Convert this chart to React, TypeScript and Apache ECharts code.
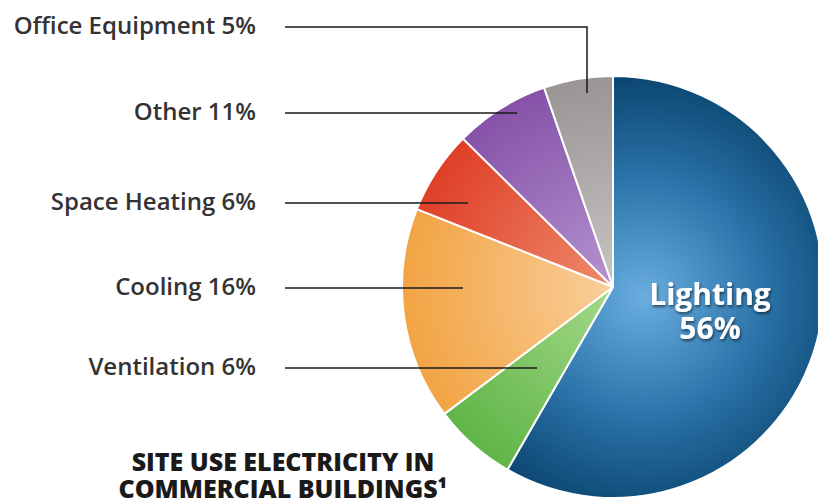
import React, { useEffect, useRef } from "react";
import * as echarts from "echarts";

const categories = ["Lighting", "Ventilation", "Cooling", "Space Heating", "Other", "Office Equipment"];
// slice sizes as drawn (percent of circle)
const sliceValues = [58.4, 6.4, 16.3, 6.4, 7.3, 5.3];
// percentages printed in the labels
const labelPercents = ["56%", "6%", "16%", "6%", "11%", "5%"];
const titleLines = ["SITE USE ELECTRICITY IN", "COMMERCIAL BUILDINGS\u00B9"];

const CX = 613;
const CY = 287;
const R = 211;

const sliceColors: [string, string][] = [
  ["#6aaee0", "#0b4670"],
  ["#a6d98a", "#5fb548"],
  ["#f9cf9c", "#f2a443"],
  ["#ee8a6c", "#df3f27"],
  ["#b493d0", "#8652a8"],
  ["#c9c4c4", "#9a9494"],
];

// label placement (line row, anchor inside slice)
const labelLayoutMap: Record<number, { y: number; ax: number; ay: number }> = {
  1: { y: 368, ax: 537, ay: 368 },
  2: { y: 288, ax: 463, ay: 288 },
  3: { y: 203, ax: 468, ay: 203 },
  4: { y: 113, ax: 517, ay: 113 },
  5: { y: 27, ax: 587, ay: 93 },
};
const LABEL_RIGHT = 256;
const LINE_START = 285;

export default function App() {
  const ref = useRef<HTMLDivElement>(null);
  useEffect(() => {
    document.body.style.margin = "0";
    const chart = echarts.init(ref.current!, null, { renderer: "svg" });
    const data = categories.map((name, i) => {
      const [inner, outer] = sliceColors[i];
      const color =
        i === 0
          ? {
              type: "radial",
              x: CX + 30,
              y: CY + 10,
              r: R * 1.05,
              global: true,
              colorStops: [
                { offset: 0, color: inner },
                { offset: 0.55, color: "#2a72a8" },
                { offset: 1, color: outer },
              ],
            }
          : {
              type: "radial",
              x: CX,
              y: CY,
              r: R,
              global: true,
              colorStops: [
                { offset: 0, color: inner },
                { offset: 1, color: outer },
              ],
            };
      const base: any = {
        name,
        value: sliceValues[i],
        itemStyle: { color },
      };
      if (i === 0) {
        base.label = {
          show: true,
          position: "inside",
          formatter: "{b}\n" + labelPercents[i],
          color: "#ffffff",
          fontFamily: "Open Sans",
          fontWeight: 700,
          fontSize: 30,
          lineHeight: 34,
          align: "center",
          textShadowColor: "rgba(0,0,0,0.55)",
          textShadowBlur: 3,
          textShadowOffsetX: 1,
          textShadowOffsetY: 2,
        };
      } else {
        base.label = {
          show: true,
          position: "outside",
          formatter: "{b} " + labelPercents[i],
          color: "#333333",
          fontFamily: "Open Sans",
          fontWeight: 600,
          fontSize: 24,
        };
      }
      return base;
    });

    // leader lines drawn above the slices, from the same layout map
    const leaderLines = Object.keys(labelLayoutMap).map((k) => {
      const m = labelLayoutMap[Number(k)];
      return {
        type: "polyline",
        z: 100,
        silent: true,
        shape: {
          points: [
            [LINE_START, m.y],
            [m.ax, m.y],
            [m.ax, m.ay],
          ],
        },
        style: { stroke: "#1a1a1a", lineWidth: 1.5, fill: null },
      };
    });

    const titleStyle = {
      fontFamily: "Open Sans",
      fontWeight: 800,
      fontSize: 25,
      lineHeight: 24,
      color: "#1a1a1a",
    };

    chart.setOption({
      animation: false,
      backgroundColor: "#ffffff",
      title: [
        { text: titleLines[0], left: 283, top: 449, padding: 0, textAlign: "center", textStyle: titleStyle },
        { text: titleLines[1], left: 283, top: 476, padding: 0, textAlign: "center", textStyle: titleStyle },
      ],
      graphic: leaderLines,
      series: [
        {
          type: "pie",
          center: [CX, CY],
          radius: [0, R],
          startAngle: 90,
          clockwise: true,
          avoidLabelOverlap: false,
          itemStyle: { borderColor: "#ffffff", borderWidth: 2 },
          labelLine: { show: false },
          emphasis: { disabled: true },
          labelLayout: (params: any) => {
            const i = params.dataIndex;
            if (i === 0) {
              return { x: CX + 97, y: CY + 23, align: "center", verticalAlign: "middle" };
            }
            const m = labelLayoutMap[i];
            return {
              x: LABEL_RIGHT,
              y: m.y - 3,
              align: "right",
              verticalAlign: "middle",
            };
          },
          data,
        },
      ],
    });
    return () => chart.dispose();
  }, []);
  return <div ref={ref} style={{ width: 818, height: 503 }} />;
}
